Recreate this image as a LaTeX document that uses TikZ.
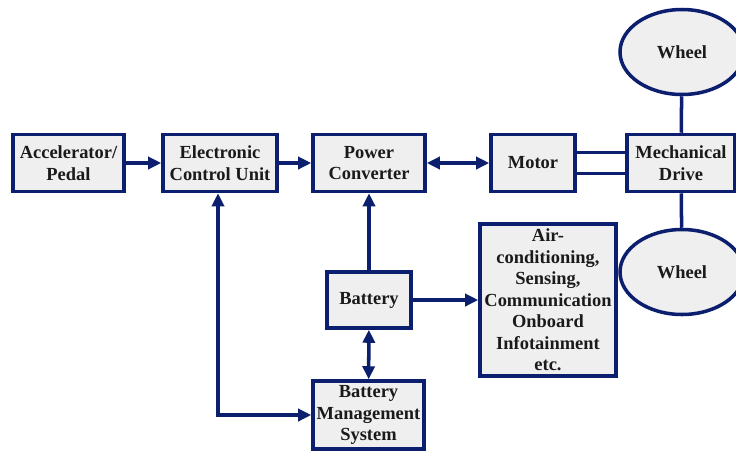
\documentclass[tikz,border=0pt]{standalone}
\usepackage{xcolor}
\usepackage{fontspec}
\setmainfont{Liberation Serif}
\usepackage{tikz}
\usetikzlibrary{arrows.meta,positioning,calc,shapes.geometric}
\definecolor{Navy}{HTML}{0B1F6E}
\definecolor{SoftGray}{HTML}{EFEFEF}
\definecolor{Ink}{HTML}{1A1A1A}

\begin{document}
\begin{tikzpicture}[
    block/.style={rectangle,draw=Navy,fill=SoftGray,line width=2pt,inner sep=0pt,align=center,text=Ink,
        font=\fontsize{10.5}{12.2}\selectfont\bfseries,minimum height=1.14cm},
    wheel/.style={ellipse,draw=Navy,fill=SoftGray,line width=2pt,inner sep=0pt,text=Ink,
        font=\fontsize{10.5}{12.2}\selectfont\bfseries,minimum width=2.48cm,minimum height=1.70cm},
    link/.style={draw=Navy,line width=2pt},
    flow/.style={link,-{Triangle[length=0.26cm,width=0.24cm]}},
    both/.style={link,{Triangle[length=0.26cm,width=0.24cm]}-{Triangle[length=0.26cm,width=0.24cm]}}
]
\useasboundingbox (0,0) rectangle (14.72,-9);
\node[block,minimum width=2.22cm] (acc) at (1.37,-3.26) {Accelerator/\\Pedal};
\node[block,minimum width=2.28cm] (ecu) at (4.40,-3.26) {Electronic\\Control Unit};
\node[block,minimum width=2.24cm] (pc) at (7.38,-3.26) {Power\\Converter};
\node[block,minimum width=1.68cm] (motor) at (10.66,-3.26) {Motor};
\node[block,minimum width=2.16cm] (mech) at (13.62,-3.26) {Mechanical\\Drive};
\node[wheel] (wheeltop) at (13.64,-1.04) {Wheel};
\node[wheel] (wheelbot) at (13.64,-5.44) {Wheel};
\node[block,minimum width=1.68cm,minimum height=1.12cm] (bat) at (7.38,-6.00) {Battery};
\node[block,minimum width=2.22cm,minimum height=1.36cm] (bms) at (7.37,-8.30) {Battery\\Management\\System};
\node[block,minimum width=2.72cm,minimum height=3.04cm] (aux) at (10.96,-6.00)
    {Air-\\conditioning,\\Sensing,\\Communication\\Onboard\\Infotainment\\etc.};

\draw[flow] (acc) -- (ecu);
\draw[flow] (ecu) -- (pc);
\draw[both] (pc) -- (motor);
\draw[link] ([yshift=0.21cm]motor.east) -- ([yshift=0.21cm]mech.west);
\draw[link] ([yshift=-0.21cm]motor.east) -- ([yshift=-0.21cm]mech.west);
\draw[link] (mech) -- (wheeltop);
\draw[link] (mech) -- (wheelbot);
\draw[flow] (bat) -- (pc);
\draw[flow] (bat) -- (aux);
\draw[both] (bat) -- (bms);
\draw[both] ([xshift=-0.04cm]ecu.south) |- (bms.west);
\end{tikzpicture}
\end{document}
